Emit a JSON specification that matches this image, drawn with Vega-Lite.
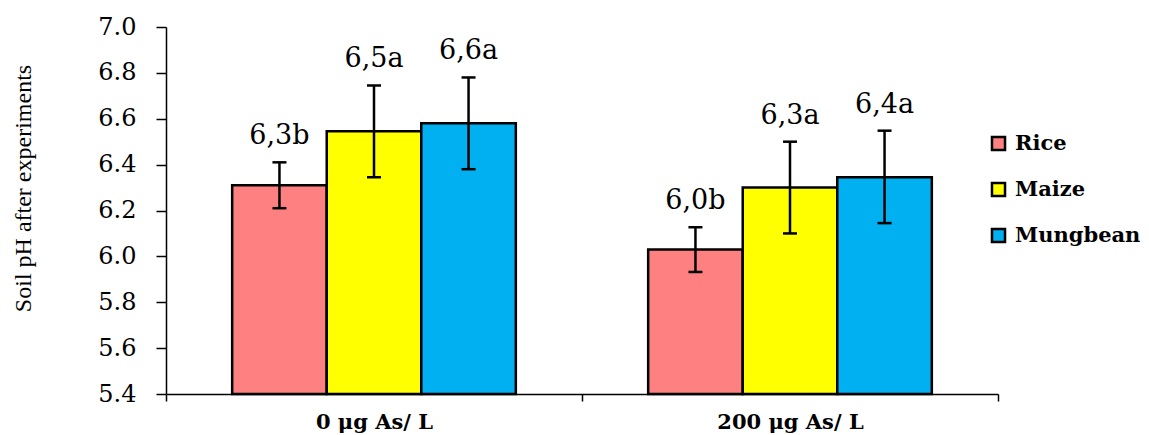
{
  "$schema": "https://vega.github.io/schema/vega-lite/v6.json",
  "width": 832,
  "height": 367,
  "autosize": {"type": "none"},
  "padding": {"left": 166, "top": 27, "right": 151, "bottom": 41},
  "background": "white",
  "config": {"view": {"stroke": null}, "font": "DejaVu Serif"},
  "data": {
    "values": [
      {"treatment": "0 μg As/ L", "crop": "Rice", "mean": 6.31, "lower": 6.21, "upper": 6.41, "label": "6,3b"},
      {"treatment": "0 μg As/ L", "crop": "Maize", "mean": 6.545, "lower": 6.345, "upper": 6.745, "label": "6,5a"},
      {"treatment": "0 μg As/ L", "crop": "Mungbean", "mean": 6.58, "lower": 6.38, "upper": 6.78, "label": "6,6a"},
      {"treatment": "200 μg As/ L", "crop": "Rice", "mean": 6.03, "lower": 5.932, "upper": 6.127, "label": "6,0b"},
      {"treatment": "200 μg As/ L", "crop": "Maize", "mean": 6.3, "lower": 6.1, "upper": 6.5, "label": "6,3a"},
      {"treatment": "200 μg As/ L", "crop": "Mungbean", "mean": 6.345, "lower": 6.145, "upper": 6.548, "label": "6,4a"}
    ]
  },
  "encoding": {
    "x": {
      "field": "treatment",
      "type": "nominal",
      "sort": ["0 μg As/ L", "200 μg As/ L"],
      "scale": {"paddingInner": 0, "paddingOuter": 0},
      "axis": {
        "title": null,
        "labelAngle": 0,
        "tickBand": "extent",
        "labelFont": "DejaVu Serif",
        "labelFontWeight": "bold",
        "labelFontSize": 21,
        "labelColor": "black",
        "domainColor": "black",
        "domainWidth": 1.5,
        "tickColor": "black",
        "tickWidth": 1.5,
        "tickSize": 7,
        "labelPadding": 10
      }
    },
    "xOffset": {
      "field": "crop",
      "type": "nominal",
      "sort": ["Rice", "Maize", "Mungbean"],
      "scale": {"paddingOuter": 0.7, "paddingInner": 0}
    }
  },
  "layer": [
    {
      "mark": {"type": "bar", "stroke": "black", "strokeWidth": 2.5},
      "encoding": {
        "y": {
          "field": "mean",
          "type": "quantitative",
          "scale": {"domain": [5.4, 7.0], "nice": false, "zero": false},
          "axis": {
            "values": [5.4, 5.6, 5.8, 6.0, 6.2, 6.4, 6.6, 6.8, 7.0],
            "format": ".1f",
            "grid": false,
            "labelFont": "DejaVu Serif",
            "labelFontSize": 24,
            "labelColor": "black",
            "labelPadding": 20,
            "tickSize": 10,
            "tickColor": "black",
            "tickWidth": 1.5,
            "domainColor": "black",
            "domainWidth": 1.5,
            "title": "Soil pH after experiments",
            "titleFont": "Liberation Serif",
            "titleFontSize": 24,
            "titleFontWeight": "normal",
            "titleColor": "black",
            "titleX": -143,
            "titleY": 161,
            "titleAngle": -90,
            "titleBaseline": "middle",
            "titleAlign": "center"
          }
        },
        "y2": {"datum": 5.4},
        "color": {
          "field": "crop",
          "type": "nominal",
          "sort": ["Rice", "Maize", "Mungbean"],
          "scale": {"domain": ["Rice", "Maize", "Mungbean"], "range": ["#ff8080", "#ffff00", "#00b0f0"]},
          "legend": {
            "title": null,
            "orient": "none",
            "legendX": 822,
            "legendY": 106,
            "symbolType": "square",
            "symbolSize": 170,
            "symbolStrokeColor": "black",
            "symbolStrokeWidth": 2.5,
            "symbolOpacity": 1,
            "labelFont": "DejaVu Serif",
            "labelFontSize": 21,
            "labelFontWeight": "bold",
            "labelColor": "black",
            "labelOffset": 6,
            "labelLimit": 200,
            "rowPadding": 21
          }
        }
      }
    },
    {
      "mark": {"type": "rule", "strokeWidth": 2.5, "color": "black"},
      "encoding": {
        "y": {"field": "lower", "type": "quantitative"},
        "y2": {"field": "upper"}
      }
    },
    {
      "mark": {"type": "tick", "thickness": 2.5, "size": 14, "color": "black", "orient": "horizontal", "opacity": 1},
      "encoding": {"y": {"field": "lower", "type": "quantitative"}}
    },
    {
      "mark": {"type": "tick", "thickness": 2.5, "size": 14, "color": "black", "orient": "horizontal", "opacity": 1},
      "encoding": {"y": {"field": "upper", "type": "quantitative"}}
    },
    {
      "mark": {"type": "text", "dy": -18, "fontSize": 27, "baseline": "alphabetic", "font": "DejaVu Serif", "color": "black"},
      "encoding": {
        "y": {"field": "upper", "type": "quantitative"},
        "text": {"field": "label", "type": "nominal"}
      }
    }
  ]
}
